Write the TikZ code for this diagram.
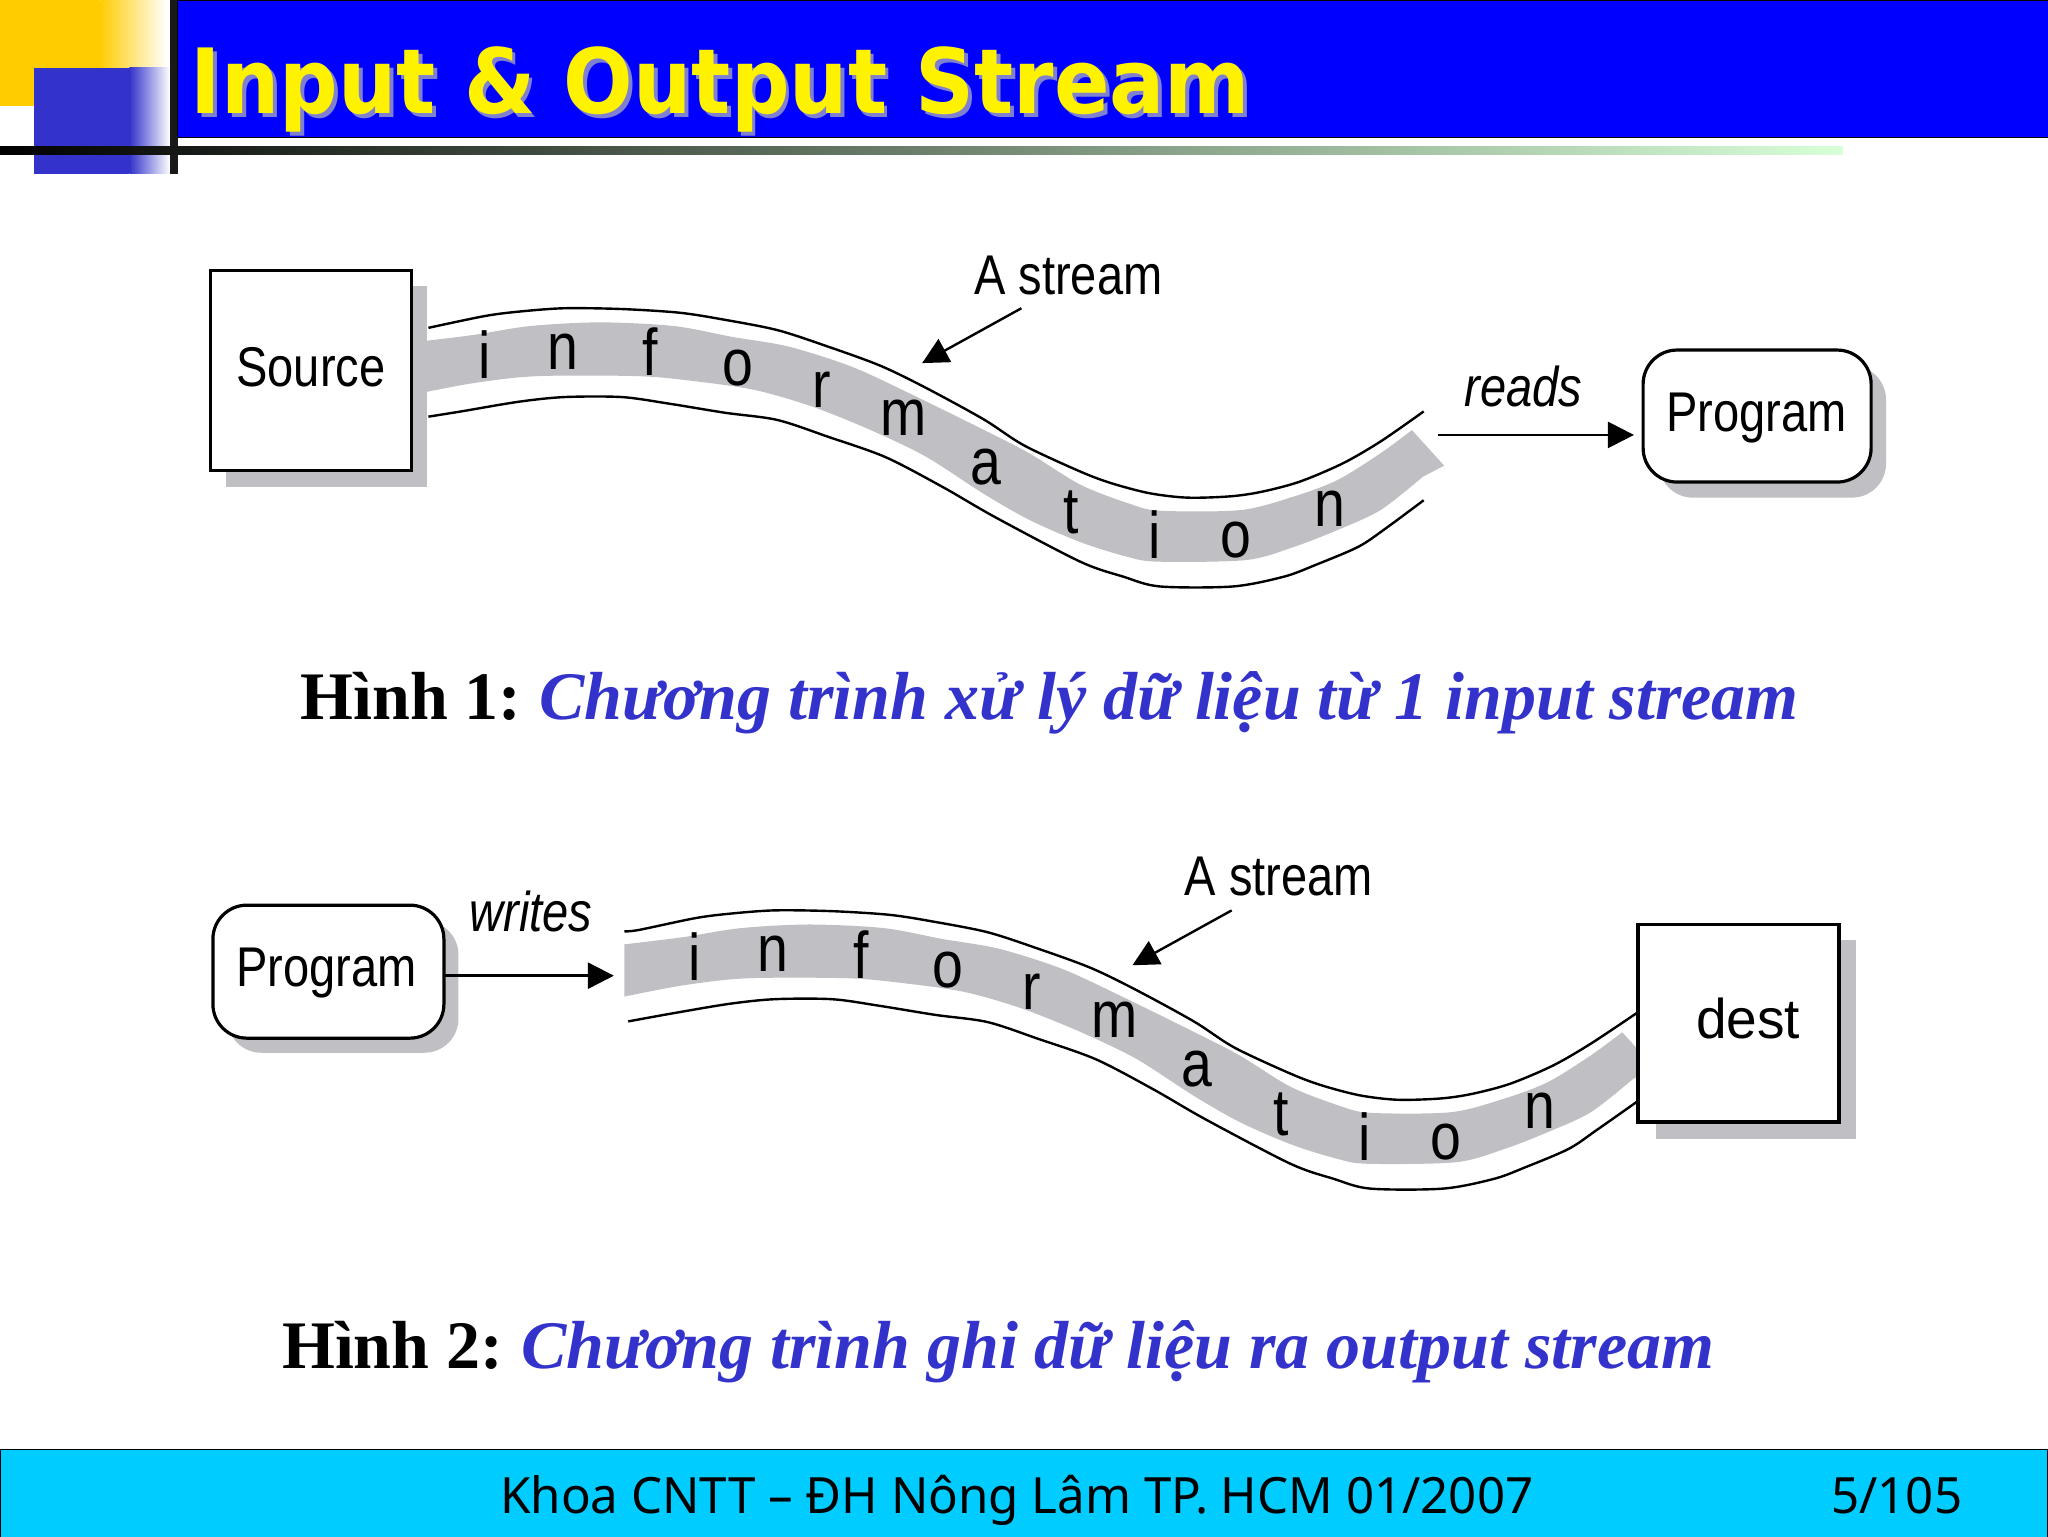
\documentclass[tikz,border=0pt]{standalone}
\usepackage{fontspec}
\usetikzlibrary{arrows.meta}
\setmainfont{Liberation Serif}
\newfontfamily\narrowf[FakeStretch=0.84]{Liberation Sans}
\newfontfamily\titlef[FakeStretch=0.91]{DejaVu Sans}
\newfontfamily\footf[FakeStretch=0.985]{Noto Sans}
\definecolor{capblue}{HTML}{3333CC}
\definecolor{bandgrey}{HTML}{C0C0C4}
\definecolor{footcyan}{HTML}{00CCFF}
\definecolor{amberc}{HTML}{FFCC00}
\definecolor{lightgreen}{HTML}{D8FFD8}
\definecolor{midgreen}{HTML}{7FB07F}
\definecolor{titleglow}{HTML}{8080D0}
\tikzset{
  txt/.style={inner sep=0pt,outer sep=0pt},
  diaglab/.style={txt,font=\narrowf\fontsize{28}{28}\selectfont,text=black},
  diagit/.style={diaglab,font=\narrowf\itshape\fontsize{28}{28}\selectfont},
  letter/.style={diaglab,yshift=-1pt,font=\narrowf\fontsize{33}{33}\selectfont},
  boxed/.style={draw=black,line width=1.6pt,fill=white,inner sep=0pt,outer sep=0pt,anchor=north west},
  streamline/.style={draw=black,line width=1.2pt},
  flow/.style={draw=black,line width=1.2pt,-{Triangle[length=13pt,width=13pt]}},
  caphead/.style={txt,anchor=base west,font=\fontsize{34}{34}\selectfont\bfseries},
  foottxt/.style={txt,anchor=base west,font=\footf\fontsize{25}{25}\selectfont},
  titletxt/.style={txt,anchor=base west,font=\titlef\bfseries\fontsize{45}{45}\selectfont},
}
\newcommand{\streamband}{%
  \fill[bandgrey] plot[smooth,tension=.5] coordinates {(317,262) (362,256.5) (406,249.6) (459,246.8) (516,249.6) (560,257.8) (604,265.4) (652,280.7) (696,301) (753,329) (788,347) (827,371) (864,385.4) (888,391) (950,390.5) (991,380) (1024,367.5) (1057,347) (1081,329.3)}
   -- (1105.7,356.5) -- (1089.4,365)
   -- plot[smooth,tension=.5] coordinates {(1089.4,365) (1057,390.5) (1024,405.8) (991,418.6) (954,428.8) (886,430) (862,426) (827,415) (788,398) (753,378) (709,349.7) (666,329) (621,311) (578,298.6) (533,292) (489,288) (411,288) (362,293.4) (317,302)} -- cycle;}
\newcommand{\streamtop}{(328,251) (371,242) (397,238.6) (432,236) (476,236.6) (520,239.4) (553,244.5) (595,252.7) (634,265.4) (674,280) (709,297) (753,321) (784,341) (827,361) (851,370) (880,377.6) (909,381) (942,380) (966,376.5) (995,368.8) (1028,354.8) (1057,338)}
\newcommand{\streambot}{(353,315) (397,307.6) (432,304) (476,304) (512,309) (555,316) (595,321.5) (634,334.4) (678,350) (722,373) (762,396) (827,430) (860,441.5) (888,449) (944,449) (983,441.5) (1007,432.6) (1040,418.6) (1061,404.5)}
\begin{document}
\begin{tikzpicture}[x=0.65306pt,y=-0.65306pt]
\useasboundingbox (0,0) rectangle (1568,1176);
% corner ornaments
\fill[amberc] (0,0) rectangle (76,81);
\shade[left color=amberc,right color=white] (76,0) rectangle (128,81);
\fill[capblue] (26,52) rectangle (99,133);
\shade[left color=capblue,right color=white] (99,52) rectangle (130,133);
\fill[black!90] (130,0) rectangle (136,133);
% banner
\fill[blue,draw=black,line width=.5pt] (136,0) rectangle (1568,105);
\shade[left color=black,middle color=midgreen,right color=lightgreen] (0,112) rectangle (1411,118);
\node[titletxt,text=titleglow] (titleshadow) at (149,90) {Input \& Output Stream};
\node[titletxt,text=yellow] (title) at (146,87) {Input \& Output Stream};
% figure 1
\streamband
\draw[streamline] plot[smooth,tension=.5] coordinates {\streamtop (1090,315)};
\draw[streamline] plot[smooth,tension=.5] coordinates {(328,319) \streambot (1090,383)};
\fill[bandgrey] (173,219) rectangle (327,373);
\node[boxed,minimum width=100.5pt,minimum height=100pt] (source) at (161,207) {};
\node[diaglab] (sourcelab) at (238,281) {Source};
\foreach \nm/\ch/\px/\py in {a/i/371/270,b/n/431/268,c/f/498/268,d/o/565/280,e/r/629/297,f/m/692/318,g/a/755/356,h/t/820/391,k/i/884/408,l/o/946/412,m/n/1018/388}
  \node[letter] (one\nm) at (\px,\py) {\ch};
\node[diaglab] (stream1) at (818,211) {A stream};
\coordinate (s1tail) at (782,236);
\coordinate (s1tip) at (706,278);
\draw[flow] (s1tail) -- (s1tip);
\fill[bandgrey,rounded corners=17pt] (1270,280) rectangle (1444,381);
\node[boxed,minimum width=114pt,minimum height=66pt,rounded corners=17pt] (prog1) at (1258,268) {};
\node[diaglab] (prog1lab) at (1345,320) {Program};
\coordinate (readstart) at (1101,333);
\coordinate (readend) at (1251,333);
\draw[flow] (readstart) -- (readend);
\node[diagit] (reads) at (1166.5,296) {reads};
% caption 1
\node[caphead] (cap1) at (230,551) {Hình 1:\hspace{9pt}\textcolor{capblue}{\itshape Chương trình xử lý dữ liệu từ 1 input stream}};
% figure 2
\begin{scope}[shift={(161,461)}]
 \streamband
 \draw[streamline] plot[smooth,tension=.5] coordinates {(317,252) \streamtop (1093,314)};
 \draw[streamline] plot[smooth,tension=.5] coordinates {(320,321) \streambot (1093,382)};
\end{scope}
\foreach \nm/\ch/\px/\py in {a/i/532/731,b/n/592/729,c/f/659/729,d/o/726/741,e/r/790/758,f/m/853/779,g/a/916/817,h/t/981/852,k/i/1045/869,l/o/1107/873,m/n/1179/849}
  \node[letter] (two\nm) at (\px,\py) {\ch};
\node[diaglab] (stream2) at (979,671) {A stream};
\coordinate (s2tail) at (943,697);
\coordinate (s2tip) at (867,739);
\draw[flow] (s2tail) -- (s2tip);
\fill[bandgrey,rounded corners=17pt] (174,705) rectangle (351,806);
\node[boxed,minimum width=115.5pt,minimum height=66.5pt,rounded corners=17pt] (prog2) at (163,693) {};
\node[diaglab] (prog2lab) at (250,745) {Program};
\coordinate (writeend) at (470,747);
\draw[flow] (prog2.east |- writeend) -- (writeend);
\node[diagit] (writes) at (406.5,698) {writes};
\fill[bandgrey] (1268,720) rectangle (1421,872);
\node[boxed,minimum width=100.5pt,minimum height=98.6pt] (dest) at (1254,708) {};
\node[diaglab,xscale=1.17,transform shape] (destlab) at (1338.5,780) {dest};
% caption 2
\node[caphead] (cap2) at (216,1048) {Hình 2:\hspace{9pt}\textcolor{capblue}{\itshape Chương trình ghi dữ liệu ra output stream}};
% footer
\fill[footcyan,draw=black,line width=.6pt] (0,1110) rectangle (1568,1177);
\node[foottxt] (foot) at (383,1159) {Khoa CNTT – ĐH Nông Lâm TP. HCM 01/2007};
\node[foottxt] (page) at (1402,1159) {5/105};
\end{tikzpicture}
\end{document}
